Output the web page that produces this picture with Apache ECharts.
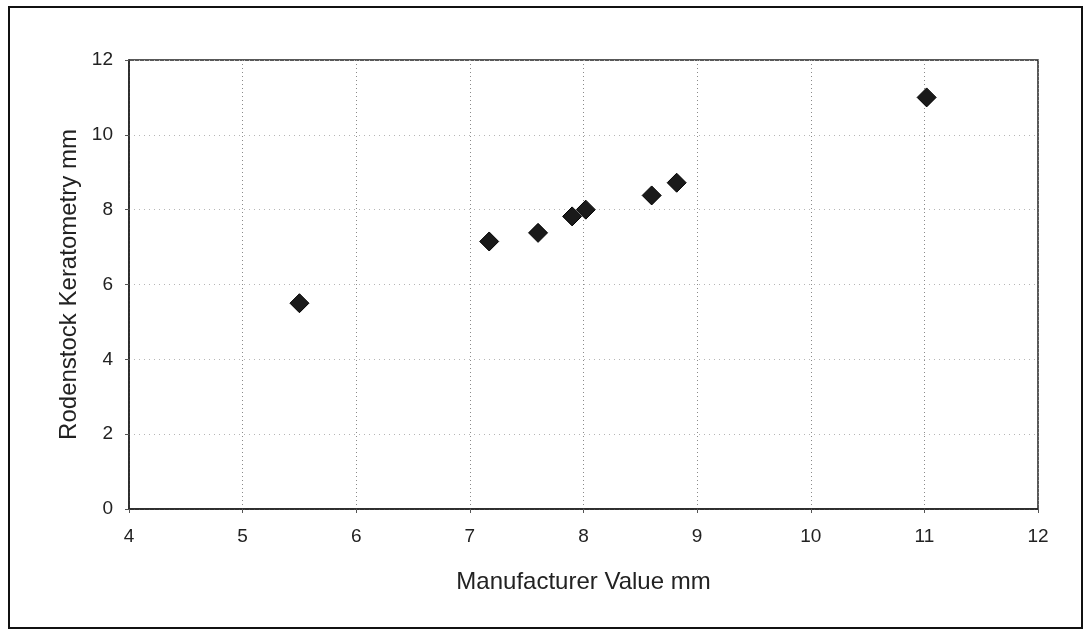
<!DOCTYPE html>
<html>
<head>
<meta charset="utf-8">
<script src="https://cdn.jsdelivr.net/npm/echarts@6/dist/echarts.min.js"></script>
<style>
  html, body { margin: 0; padding: 0; background: #fff; }
  #chart { width: 1089px; height: 636px; }
</style>
</head>
<body>
<div id="chart"></div>
<script>
// Manufacturer value vs. Rodenstock keratometry (mm)
const manufacturerValues = [5.5, 7.17, 7.6, 7.9, 8.02, 8.6, 8.82, 11.02];
const keratometryValues  = [5.5, 7.15, 7.38, 7.82, 8.0, 8.38, 8.72, 11.0];
const xTicks = [4, 5, 6, 7, 8, 9, 10, 11, 12];
const yTicks = [0, 2, 4, 6, 8, 10, 12];

const points = manufacturerValues.map((x, i) => [x, keratometryValues[i]]);

const chart = echarts.init(document.getElementById('chart'), null, { renderer: 'canvas' });

const font = 'Liberation Sans, Arial, sans-serif';

chart.setOption({
  backgroundColor: '#ffffff',
  animation: false,
  graphic: [{
    type: 'rect',
    shape: { x: 9, y: 7, width: 1073, height: 621 },
    style: { fill: 'none', stroke: '#111', lineWidth: 2 },
    silent: true
  }],
  grid: {
    left: 129, right: 51, top: 60, bottom: 127,
    show: true, borderColor: '#222', borderWidth: 1.5, backgroundColor: 'transparent'
  },
  xAxis: {
    type: 'value',
    min: xTicks[0], max: xTicks[xTicks.length - 1], interval: 1,
    name: 'Manufacturer Value mm',
    nameLocation: 'middle', nameGap: 61,
    nameTextStyle: { fontFamily: font, fontSize: 24, color: '#222' },
    axisLine: { show: true, lineStyle: { color: '#222', width: 1.5 } },
    axisTick: { show: true, length: 4, lineStyle: { color: '#555' } },
    axisLabel: { fontFamily: font, fontSize: 19, color: '#222', margin: 18 },
    splitLine: { show: true, lineStyle: { color: '#8a8a8a', type: [1, 3], width: 1 } }
  },
  yAxis: {
    type: 'value',
    min: yTicks[0], max: yTicks[yTicks.length - 1], interval: 2,
    name: 'Rodenstock Keratometry mm',
    nameLocation: 'middle', nameGap: 47,
    nameTextStyle: { fontFamily: font, fontSize: 24, color: '#222' },
    axisLine: { show: true, lineStyle: { color: '#222', width: 1.5 } },
    axisTick: { show: true, length: 4, lineStyle: { color: '#555' } },
    axisLabel: { fontFamily: font, fontSize: 19, color: '#222', margin: 16 },
    splitLine: { show: true, lineStyle: { color: '#b5b5b5', type: [1, 4], width: 1 } }
  },
  series: [{
    type: 'scatter',
    data: points,
    symbol: 'diamond',
    symbolSize: [19, 19],
    itemStyle: { color: '#1a1a1a', borderColor: '#000', borderWidth: 1, opacity: 1 }
  }]
});
</script>
</body>
</html>
